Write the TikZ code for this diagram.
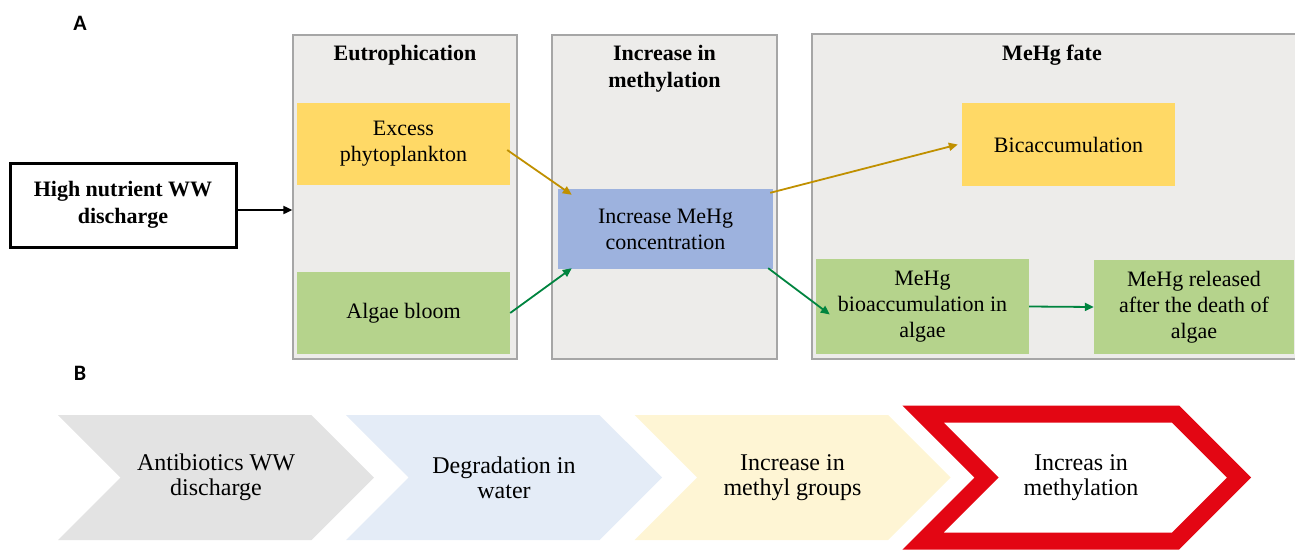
\documentclass[tikz,border=0pt]{standalone}
\usepackage{fontspec}
\setmainfont{Liberation Serif}
\newfontfamily\boxfont{Liberation Serif}
\newfontfamily\panelfont{Carlito}
\usetikzlibrary{arrows.meta,calc,shapes.symbols}
\definecolor{panelgray}{HTML}{EDECEA}
\definecolor{panelline}{HTML}{A6A6A6}
\definecolor{boxyellow}{HTML}{FFD966}
\definecolor{boxgreen}{HTML}{B5D38C}
\definecolor{boxblue}{HTML}{9DB2DE}
\definecolor{arrgold}{HTML}{C09000}
\definecolor{arrgreen}{HTML}{00843F}
\definecolor{chevgray}{HTML}{E3E3E3}
\definecolor{chevblue}{HTML}{E4ECF7}
\definecolor{chevyellow}{HTML}{FEF5D4}
\definecolor{chevred}{HTML}{E30613}

\begin{document}
\begin{tikzpicture}[x=1pt,y=-1pt,
  panel/.style={draw=panelline,fill=panelgray,line width=1.2pt},
  box/.style={inner sep=0pt,align=center,font=\boxfont\fontsize{22}{26}\selectfont},
  title/.style={align=center,font=\boxfont\fontsize{22}{27}\selectfont\bfseries},
  goldarrow/.style={draw=arrgold,line width=1.8pt,-{Triangle[length=9pt,width=8pt]}},
  greenarrow/.style={draw=arrgreen,line width=1.8pt,-{Triangle[length=9pt,width=8pt]}},
  chev/.style={signal,signal from=west,signal to=east,signal pointer angle=90,
    minimum width=316,minimum height=125,inner sep=0pt,align=center,
    font=\boxfont\fontsize{24}{25}\selectfont},
  letter/.style={font=\panelfont\fontsize{22}{22}\selectfont\bfseries}]
\useasboundingbox (0,0) rectangle (1295,549);
\node[letter] (lettera) at (80,23) {A};
\node[letter] (letterb) at (80,373) {B};
\node[panel,minimum width=224,minimum height=324] (eutro) at (405,197) {};
\node[panel,minimum width=225,minimum height=324] (methyl) at (664.5,197) {};
\node[panel,minimum width=484,minimum height=325] (fate) at (1054,196.5) {};
\node[title] (eutrotitle) at (405,55) {Eutrophication};
\node[title] (methyltitle) at (664.5,69) {Increase in\\methylation};
\node[title] (fatetitle) at (1052,55) {MeHg fate};
\node[box,draw,line width=3pt,minimum width=226,minimum height=84,font=\boxfont\fontsize{22}{27}\selectfont\bfseries] (high) at (123,205) {High nutrient WW\\discharge};
\node[box,fill=boxyellow,minimum width=213,minimum height=82] (excess) at (403.5,144) {Excess\\phytoplankton};
\node[box,fill=boxgreen,minimum width=213,minimum height=82] (algae) at (403.5,313) {Algae bloom};
\node[box,fill=boxblue,minimum width=215,minimum height=80] (conc) at (665.5,229) {Increase MeHg\\concentration};
\node[box,fill=boxyellow,minimum width=213,minimum height=83] (bioacc) at (1068.5,144.5) {Bicaccumulation};
\node[box,fill=boxgreen,minimum width=213,minimum height=95] (algaeacc) at (922.5,306.5) {MeHg\\bioaccumulation in\\algae};
\node[box,fill=boxgreen,minimum width=200,minimum height=94] (released) at (1194,307) {MeHg released\\after the death of\\algae};
\draw[line width=1.8pt,-{Triangle[length=9pt,width=8pt]}] ($(high.east)+(0,5)$) -- ($(eutro.west)+(0,13)$);
\draw[goldarrow] ($(excess.east)+(-3,6)$) -- ($(conc.north west)+(14,6)$);
\draw[greenarrow] (algae.east) -- ($(conc.south west)+(14,-1)$);
\draw[goldarrow] ($(conc.north east)+(-3,4)$) -- ($(bioacc.west)+(-4,0)$);
\draw[greenarrow] ($(conc.south east)+(-5,-1)$) -- ($(algaeacc.west)+(14,8)$);
\draw[greenarrow] (algaeacc.east) -- (released.west);
\node[chev,fill=chevgray] (antibiotics) at (216,477.5) {Antibiotics WW\\discharge};
\node[chev,fill=chevblue] (degradation) at (504,477.5) {Degradation in\\water};
\node[chev,fill=chevyellow] (methylgroups) at (792.5,477.5) {Increase in\\methyl groups};
\node[chev,draw=chevred,line width=17pt,fill=white,minimum height=127] (methylation) at (1081,477.5) {Increas in\\methylation};
\end{tikzpicture}
\end{document}
